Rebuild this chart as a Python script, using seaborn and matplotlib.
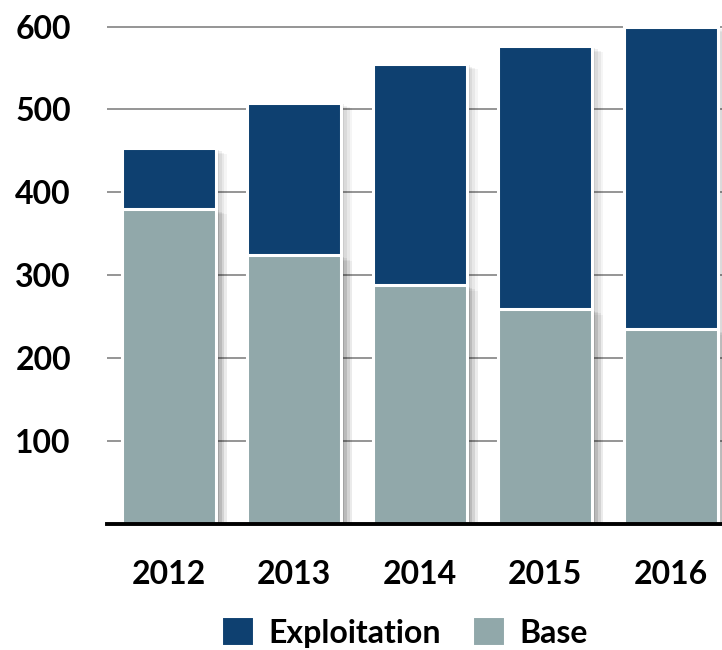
import matplotlib
matplotlib.use("Agg")
import matplotlib.pyplot as plt
import matplotlib.patheffects as pe
from matplotlib.patches import Patch
import seaborn as sns
import pandas as pd

# Data
years = ["2012", "2013", "2014", "2015", "2016"]
base = [380, 324, 288, 259, 235]
exploitation = [73, 184, 267, 317, 365]
totals = [b + e for b, e in zip(base, exploitation)]

navy = "#0e4070"
grey = "#91a8aa"

df = pd.DataFrame({"year": years, "base": base, "total": totals})

sns.set_theme(style="white")
plt.rcParams["font.family"] = ["Lato", "DejaVu Sans"]
plt.rcParams["font.weight"] = "bold"

fig = plt.figure(figsize=(7.22, 6.5), dpi=100)
ax = fig.add_axes([107 / 722, 126 / 650, 615 / 722, 524 / 650])

# soft drop shadow built from a few stacked offsets
shadow = [
    pe.SimplePatchShadow(offset=(2, -1), shadow_rgbFace="black", alpha=0.07),
    pe.SimplePatchShadow(offset=(4, -2), shadow_rgbFace="black", alpha=0.06),
    pe.SimplePatchShadow(offset=(6, -3), shadow_rgbFace="black", alpha=0.05),
    pe.SimplePatchShadow(offset=(8, -4), shadow_rgbFace="black", alpha=0.04),
    pe.Normal(),
]

bar_kw = dict(width=0.75, edgecolor="white", linewidth=2.2, saturation=1, zorder=3)
sns.barplot(data=df, x="year", y="total", color=navy, ax=ax, **bar_kw)
sns.barplot(data=df, x="year", y="base", color=grey, ax=ax, **bar_kw)
for p in ax.patches:
    p.set_path_effects(shadow)

ax.set_ylim(0, 632)
ax.set_xlim(-0.494, 4.41)
ax.set_yticks([100, 200, 300, 400, 500, 600])
ax.yaxis.grid(True, color="#8c8c8c", linewidth=1.3, zorder=0)
ax.set_axisbelow(True)
ax.set_xlabel("")
ax.set_ylabel("")

for s in ["top", "right", "left"]:
    ax.spines[s].set_visible(False)
ax.spines["bottom"].set_color("black")
ax.spines["bottom"].set_linewidth(2.8)
ax.spines["bottom"].set_zorder(5)

ax.tick_params(axis="y", length=0, pad=26, labelsize=23, labelcolor="black")
ax.tick_params(axis="x", length=0, pad=26, labelsize=23, labelcolor="black")
for lbl in ax.get_xticklabels() + ax.get_yticklabels():
    lbl.set_fontweight("bold")

handles = [
    Patch(facecolor=navy, edgecolor="white", linewidth=1.5, label="Exploitation"),
    Patch(facecolor=grey, edgecolor="white", linewidth=1.5, label="Base"),
]
fig.legend(handles=handles, loc="center", bbox_to_anchor=(0.561, 0.027), ncol=2,
           frameon=False, handlelength=1.0, handleheight=1.0, handletextpad=0.45,
           columnspacing=1.0, labelcolor="black",
           prop={"size": 23, "weight": "bold"})

fig.savefig("out.png", dpi=100)
